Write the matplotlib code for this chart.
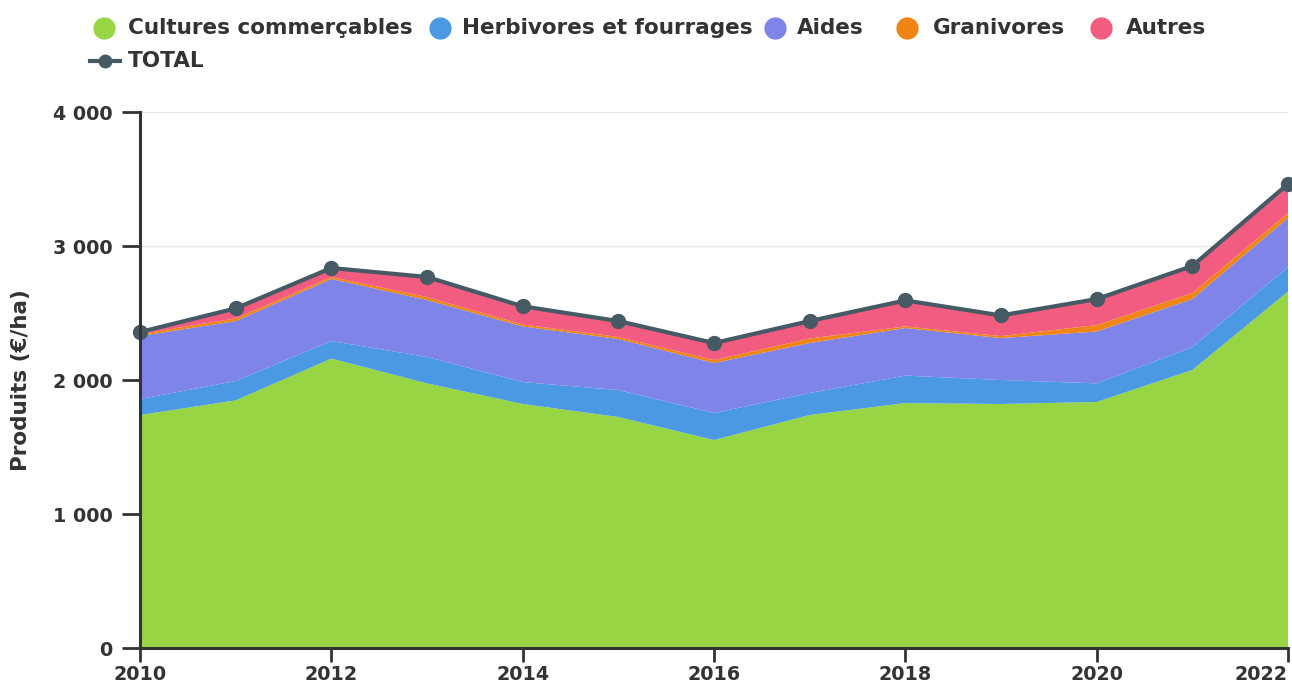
import numpy as np
import matplotlib
matplotlib.use("Agg")
import matplotlib.pyplot as plt
from matplotlib.lines import Line2D
from matplotlib.ticker import FuncFormatter

# ---- donnees ----
annees = [2010, 2011, 2012, 2013, 2014, 2015, 2016, 2017, 2018, 2019, 2020, 2021, 2022]
cultures = [1739, 1848, 2160, 1975, 1821, 1724, 1552, 1739, 1828, 1821, 1836, 2075, 2660]
herbivores = [119, 145, 131, 197, 164, 201, 202, 164, 205, 179, 139, 171, 183]
aides = [470, 447, 463, 425, 415, 381, 373, 373, 355, 313, 387, 358, 366]
granivores = [15, 20, 15, 22, 15, 15, 22, 34, 12, 15, 48, 45, 37]
autres = [15, 75, 67, 150, 135, 119, 127, 130, 194, 154, 194, 202, 217]

series = ["Cultures commerçables", "Herbivores et fourrages", "Aides", "Granivores", "Autres"]
couleurs = ["#97d545", "#4b99e2", "#7e84e8", "#ef8514", "#f25c80"]
c_total = "#455a64"
c_txt = "#333333"

total = np.sum([cultures, herbivores, aides, granivores, autres], axis=0)

plt.rcParams["font.family"] = "DejaVu Sans"
plt.rcParams["font.weight"] = "bold"

W, H = 1292, 683
fig = plt.figure(figsize=(W / 100, H / 100), dpi=100)
ax = fig.add_axes([0.1084, 0.0512, 0.8885, 0.7848])

ax.stackplot(annees, cultures, herbivores, aides, granivores, autres,
             colors=couleurs, linewidth=0, zorder=2)
ax.plot(annees, total, color=c_total, lw=3, marker="o", ms=10, zorder=4, clip_on=False)

ax.set_xlim(2010, 2022)
ax.set_ylim(0, 4000)
ax.set_yticks(range(0, 4001, 1000))
ax.set_xticks(range(2010, 2023, 2))
ax.yaxis.set_major_formatter(FuncFormatter(lambda v, p: f"{int(v):,}".replace(",", " ")))
ax.grid(axis="y", color="#e6e6e6", lw=1, zorder=0)
ax.set_axisbelow(True)

for s in ["top", "right"]:
    ax.spines[s].set_visible(False)
for s in ["left", "bottom"]:
    ax.spines[s].set_color(c_txt)
    ax.spines[s].set_linewidth(2.2)
    ax.spines[s].set_zorder(5)
ax.tick_params(axis="both", colors=c_txt, width=2, labelsize=13.8)
ax.tick_params(axis="x", length=10, pad=2)
ax.tick_params(axis="y", length=13, pad=7)
for lab in ax.get_xticklabels() + ax.get_yticklabels():
    lab.set_fontweight("bold")
ax.get_xticklabels()[-1].set_horizontalalignment("right")

ax.set_ylabel("Produits (€/ha)", fontsize=15.5, fontweight="bold", color=c_txt)
ax.yaxis.set_label_coords(-0.095, 0.5)

# legende placee a la main (espacements irreguliers comme sur l'original)
pos_legende = [(104, 128), (440, 462), (775, 797), (907, 933), (1101, 1126)]
y1, y2 = 28, 61
for (xm, xt), nom, c in zip(pos_legende, series, couleurs):
    fig.add_artist(Line2D([xm / W], [1 - y1 / H], ls="none", marker="o", ms=15, color=c,
                          transform=fig.transFigure))
    fig.text(xt / W, 1 - y1 / H, nom, fontsize=15.5, fontweight="bold", color=c_txt,
             va="center")
fig.add_artist(Line2D([90 / W, 105 / W, 120 / W], [1 - y2 / H] * 3, color=c_total, lw=3,
                      marker="o", ms=9, markevery=[1], transform=fig.transFigure))
fig.text(128 / W, 1 - y2 / H, "TOTAL", fontsize=15.5, fontweight="bold", color=c_txt,
         va="center")

fig.savefig("out.png", dpi=100)
